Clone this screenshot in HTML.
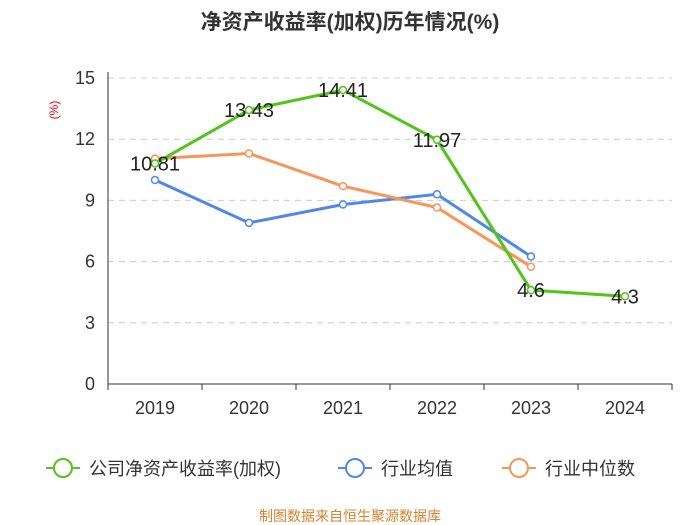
<!DOCTYPE html>
<html><head><meta charset="utf-8"><style>
body{margin:0;background:#fff;}
svg{display:block;font-family:"Liberation Sans","Noto Sans CJK SC",sans-serif;}
</style></head><body>
<svg id="c" width="700" height="525">
<text x="350" y="29" text-anchor="middle" font-size="21" font-weight="bold" fill="#333">净资产收益率(加权)历年情况(%)</text>
<text x="58" y="110" font-size="12" fill="#e00" transform="rotate(-90 58 110)" text-anchor="middle">(%)</text>
<g id="grid"></g><g id="series"></g>
<g>
<g><line x1="46" y1="468" x2="80" y2="468" stroke="#52c41a" stroke-width="2"/><circle cx="63" cy="468" r="9" fill="#fff" stroke="#52c41a" stroke-width="2"/><text x="89" y="475" font-size="18" fill="#333">公司净资产收益率(加权)</text></g>
<g><line x1="338" y1="468" x2="372" y2="468" stroke="#5087ec" stroke-width="2"/><circle cx="355" cy="468" r="9" fill="#fff" stroke="#5087ec" stroke-width="2"/><text x="381" y="475" font-size="18" fill="#333">行业均值</text></g>
<g><line x1="502" y1="468" x2="536" y2="468" stroke="#f89558" stroke-width="2"/><circle cx="519" cy="468" r="9" fill="#fff" stroke="#f89558" stroke-width="2"/><text x="545" y="475" font-size="18" fill="#333">行业中位数</text></g>
</g>
<text x="350" y="521" text-anchor="middle" font-size="14" fill="#d9822b">制图数据来自恒生聚源数据库</text>
</svg>
<script>
const years=["2019","2020","2021","2022","2023","2024"];
const company=[10.81,13.43,14.41,11.97,4.6,4.3];
const industryAvg=[10.0,7.9,8.8,9.3,6.25,null];
const industryMedian=[11.05,11.3,9.7,8.65,5.75,null];
const yTicks=[0,3,6,9,12,15];
const NS="http://www.w3.org/2000/svg";
const x0=108,x1=672,yB=384,yT=78;
const bw=(x1-x0)/years.length;
const X=i=>x0+bw*(i+0.5);
const Y=v=>yB-(v/15)*(yB-yT);
function mk(t,a,p){const e=document.createElementNS(NS,t);for(const k in a)e.setAttribute(k,a[k]);p.appendChild(e);return e;}
const g=document.getElementById('grid'),s=document.getElementById('series');
yTicks.forEach(v=>{
 if(v>0){const l=mk('line',{x1:x0,x2:x1,y1:Y(v),y2:Y(v),stroke:'#ccc','stroke-dasharray':'6,5'},g);
 
 }
 const t=mk('text',{x:95,y:Y(v)+6,'text-anchor':'end','font-size':18,fill:'#333'},g);t.textContent=v;
 
 
});
const ax=mk('line',{x1:x0,x2:x0,y1:yT-6,y2:yB,stroke:'#333'},g);


const xa=mk('line',{x1:x0,x2:x1,y1:yB,y2:yB,stroke:'#333'},g);


years.forEach((y,i)=>{
 mk('line',{x1:x0+bw*i,x2:x0+bw*i,y1:yB,y2:yB+6,stroke:'#333'},g);
 const t=mk('text',{x:X(i),y:yB+30,'text-anchor':'middle','font-size':18,fill:'#333'},g);t.textContent=y;
 
 
});
mk('line',{x1:x1,x2:x1,y1:yB,y2:yB+6,stroke:'#333'},g);
function draw(arr,col,name,labels){
 const pts=arr.map((v,i)=>v==null?null:[X(i),Y(v)]).filter(p=>p);
 const pl=mk('polyline',{points:pts.map(p=>p.join(',')).join(' '),fill:'none',stroke:col,'stroke-width':3},s);
 
 
 arr.forEach((v,i)=>{if(v==null)return;
  const c=mk('circle',{cx:X(i),cy:Y(v),r:3.5,fill:'#fff',stroke:col,'stroke-width':1.5},s);
  
  
 });
 if(labels)arr.forEach((v,i)=>{
  const t=mk('text',{x:X(i),y:Y(v)+7,'text-anchor':'middle','font-size':20,fill:'#222'},s);t.textContent=v;
  
  
 });
}
draw(industryAvg,'#5087ec','industry-avg',false);
draw(industryMedian,'#f89558','industry-median',false);
draw(company,'#52c41a','company',true);
</script>
</body></html>
